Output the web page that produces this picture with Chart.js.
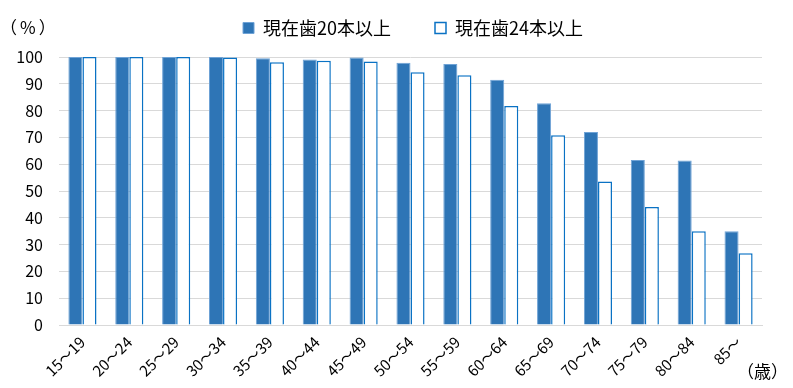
<!DOCTYPE html>
<html>
<head>
<meta charset="utf-8">
<script src="https://cdn.jsdelivr.net/npm/chart.js@4"></script>
<style>
  html, body { margin: 0; padding: 0; background: #fff; }
  #wrap { width: 793px; height: 388px; }
</style>
</head>
<body>
<div id="wrap"><canvas id="teethChart"></canvas></div>
<script>
const ageGroups = ['15～19', '20～24', '25～29', '30～34', '35～39', '40～44', '45～49',
    '50～54', '55～59', '60～64', '65～69', '70～74', '75～79', '80～84', '85～'];
const teeth20 = [100, 100, 100, 100, 99.5, 99.1, 99.8, 97.9, 97.4, 91.5, 82.7, 72.0, 61.6, 61.4, 35.0];
const teeth24 = [100, 100, 100, 99.8, 98.0, 98.6, 98.3, 94.3, 93.2, 81.7, 70.8, 53.5, 44.0, 35.0, 26.8];
const yTicks = [0, 10, 20, 30, 40, 50, 60, 70, 80, 90, 100];

const FONT = "'Noto Sans CJK JP', 'Noto Sans', sans-serif";

// unit labels: (%) above the y axis, (歳) after the last category
// also nudges the legend to the right and leaves a gap under it like the original
const unitLabels = {
    id: 'unitLabels',
    beforeLayout(chart) {
        const lg = chart.legend;
        if (lg && !lg._padded) {
            const fit = lg.fit.bind(lg);
            lg.fit = function () { fit(); this.height += 10; };
            lg._padded = true;
        }
    },
    afterLayout(chart) {
        if (chart.legend) {
            chart.legend.left += 32;
            chart.legend.right += 32;
        }
    },
    afterDraw(chart) {
        const ctx = chart.ctx;
        ctx.save();
        ctx.fillStyle = '#000';
        ctx.font = '17px ' + FONT;
        ctx.textBaseline = 'middle';
        ctx.textAlign = 'left';
        ctx.letterSpacing = '3px';
        ctx.fillText('（%）', 0, 28);
        ctx.letterSpacing = '0px';
        ctx.fillText('（歳）', 737, 372);
        ctx.restore();
    }
};

const chart = new Chart(document.getElementById('teethChart'), {
    type: 'bar',
    data: {
        labels: ageGroups,
        datasets: [{
            label: '現在歯20本以上',
            data: teeth20,
            backgroundColor: '#2E75B6',
            borderColor: '#6FA3D6',
            borderWidth: 1
        }, {
            label: '現在歯24本以上',
            data: teeth24,
            backgroundColor: '#ffffff',
            borderColor: '#0A72C4',
            borderWidth: 1.5
        }]
    },
    options: {
        responsive: true,
        maintainAspectRatio: false,
        animation: false,
        layout: { padding: { left: 0, right: 31, top: -25, bottom: 0 } },
        datasets: {
            bar: { barPercentage: 1, categoryPercentage: 0.6 }
        },
        plugins: {
            legend: {
                position: 'top',
                labels: {
                    color: '#000',
                    font: { family: FONT, size: 18 },
                    boxWidth: 11,
                    boxHeight: 11,
                    padding: 44,
                    useBorderRadius: false
                }
            },
            tooltip: { enabled: false }
        },
        scales: {
            x: {
                grid: { display: false },
                border: { color: '#d9d9d9', width: 1 },
                ticks: {
                    color: '#000',
                    font: { family: FONT, size: 15 },
                    minRotation: 45,
                    maxRotation: 45,
                    padding: 0
                },
                afterFit: s => { s.height = 63; }
            },
            y: {
                min: 0,
                max: 100,
                afterBuildTicks: s => { s.ticks = yTicks.map(v => ({ value: v })); },
                grid: { color: '#d9d9d9', lineWidth: 1, drawTicks: false },
                border: { display: false },
                ticks: {
                    color: '#000',
                    font: { family: FONT, size: 16 },
                    padding: 16
                },
                afterFit: s => { s.width = 59; }
            }
        }
    },
    plugins: [unitLabels]
});
</script>
</body>
</html>
